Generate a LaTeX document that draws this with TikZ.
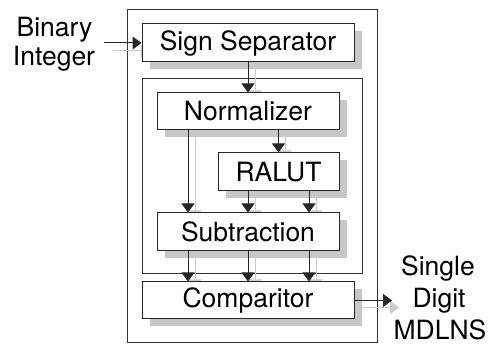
\documentclass[tikz,border=0pt]{standalone}
\usepackage{fontspec}
\setmainfont{TeX Gyre Heros}
\usetikzlibrary{arrows.meta,calc}
\begin{document}
\begin{tikzpicture}[x=1pt,y=-1pt,
  blk/.style={draw=black!85, line width=1pt, fill=white, rectangle, inner sep=0pt,
              font=\fontsize{26.5}{30}\selectfont},
  shd/.style={fill=black!22, draw=none},
  frame/.style={draw=black!80, line width=0.9pt},
  conn/.style={draw=black!85, line width=1pt, -{Triangle[length=9pt,width=13pt]}},
  sconn/.style={draw=black!20, line width=1pt, -{Triangle[length=9pt,width=13pt]}},
  lbl/.style={font=\fontsize{26.5}{30}\selectfont, inner sep=0pt, anchor=base}]
\useasboundingbox (0,0) rectangle (488,344);
% frames
\draw[frame] (127,9.5) rectangle (377,342);
\draw[frame] (142,78) rectangle (362,273);
% column coordinates
\coordinate (xa) at (188,0);
\coordinate (xb) at (248,0);
\coordinate (xc) at (309,0);
\coordinate (in) at (104,43);
% box shadows
\fill[shd] (150,31) rectangle (362,69);
\fill[shd] (165,100) rectangle (347,137);
\fill[shd] (226,160) rectangle (347,198);
\fill[shd] (165,220) rectangle (347,258);
\fill[shd] (150,289) rectangle (362,326);
% boxes (placed; drawn again on top)
\path (248,43) node[blk, minimum width=212pt, minimum height=38pt] (ss) {Sign Separator};
\path (248,111.5) node[blk, minimum width=182pt, minimum height=37pt] (nrm) {Normalizer};
\path (278.5,172) node[blk, minimum width=121pt, minimum height=38pt] (ralut) {RALUT};
\path (248,232) node[blk, minimum width=182pt, minimum height=38pt] (sub) {Subtraction};
\path (248,300.5) node[blk, minimum width=212pt, minimum height=37pt] (cmp) {Comparitor};
\coordinate (out) at (392,300.5);
% connector shadows
\draw[sconn] ($(in)+(8,8)$) -- ($(ss.west)+(8,8)$);
\draw[sconn] ($(ss.south)+(7,7)$) -- ($(nrm.north)+(7,7)$);
\draw[sconn] ($(nrm.south -| ralut.north)+(7,7)$) -- ($(ralut.north)+(7,7)$);
\draw[sconn] ($(nrm.south -| xa)+(7,7)$) -- ($(sub.north -| xa)+(7,7)$);
\draw[sconn] ($(ralut.south -| xb)+(7,7)$) -- ($(sub.north -| xb)+(7,7)$);
\draw[sconn] ($(ralut.south -| xc)+(7,7)$) -- ($(sub.north -| xc)+(7,7)$);
\draw[sconn] ($(sub.south -| xa)+(7,7)$) -- ($(cmp.north -| xa)+(7,7)$);
\draw[sconn] ($(sub.south -| xb)+(7,7)$) -- ($(cmp.north -| xb)+(7,7)$);
\draw[sconn] ($(sub.south -| xc)+(7,7)$) -- ($(cmp.north -| xc)+(7,7)$);
\draw[sconn] ($(cmp.east)+(7,7)$) -- ($(out)+(7,7)$);
% connectors
\draw[conn] (in) -- (ss.west);
\draw[conn] (ss.south) -- (nrm.north);
\draw[conn] (nrm.south -| ralut.north) -- (ralut.north);
\draw[conn] (nrm.south -| xa) -- (sub.north -| xa);
\draw[conn] (ralut.south -| xb) -- (sub.north -| xb);
\draw[conn] (ralut.south -| xc) -- (sub.north -| xc);
\draw[conn] (sub.south -| xa) -- (cmp.north -| xa);
\draw[conn] (sub.south -| xb) -- (cmp.north -| xb);
\draw[conn] (sub.south -| xc) -- (cmp.north -| xc);
\draw[conn] (cmp.east) -- (out);
% boxes on top
\path (248,43) node[blk, minimum width=212pt, minimum height=38pt] (ss2) {Sign Separator};
\path (248,111.5) node[blk, minimum width=182pt, minimum height=37pt] (nrm2) {Normalizer};
\path (278.5,172) node[blk, minimum width=121pt, minimum height=38pt] (ralut2) {RALUT};
\path (248,232) node[blk, minimum width=182pt, minimum height=38pt] (sub2) {Subtraction};
\path (248,300.5) node[blk, minimum width=212pt, minimum height=37pt] (cmp2) {Comparitor};
% labels
\node[lbl] (l1) at (54.5,37) {Binary};
\node[lbl] (l2) at (54,66) {Integer};
\node[lbl] (r1) at (438,275.5) {Single};
\node[lbl] (r2) at (439,307.5) {Digit};
\node[lbl, text depth=0pt] (r3) at (440,339.5) {MDLNS};
\end{tikzpicture}
\end{document}
